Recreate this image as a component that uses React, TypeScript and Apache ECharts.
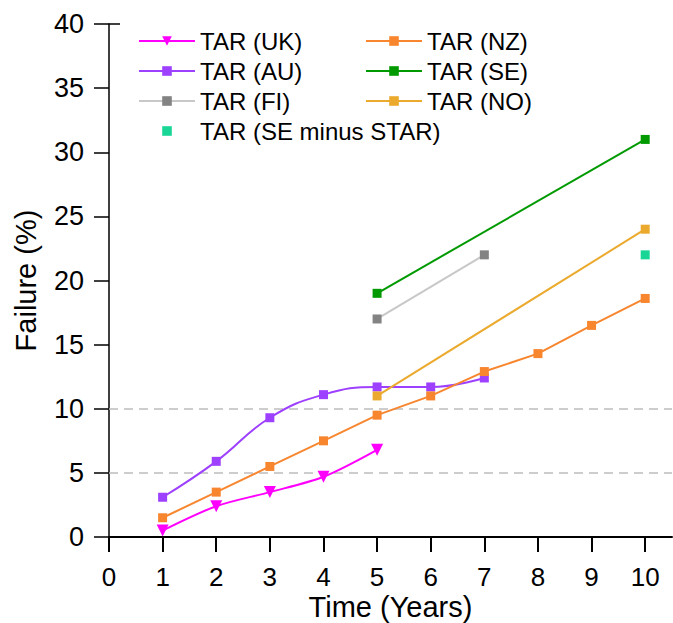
import React, { useEffect, useRef } from "react";
import * as echarts from "echarts";

const xTicks = [0, 1, 2, 3, 4, 5, 6, 7, 8, 9, 10];
const refLines = [5, 10];

const ukYears = [1, 2, 3, 4, 5];
const ukValues = [0.5, 2.4, 3.5, 4.7, 6.8];

const auYears = [1, 2, 3, 4, 5, 6, 7];
const auValues = [3.1, 5.9, 9.3, 11.1, 11.7, 11.7, 12.4];

const nzYears = [1, 2, 3, 4, 5, 6, 7, 8, 9, 10];
const nzValues = [1.5, 3.5, 5.5, 7.5, 9.5, 11.0, 12.9, 14.3, 16.5, 18.6];

const seYears = [5, 10];
const seValues = [19, 31];

const fiYears = [5, 7];
const fiValues = [17, 22];

const noYears = [5, 10];
const noValues = [11, 24];

const seMinusStarYears = [10];
const seMinusStarValues = [22];

const FONT = "'Liberation Sans', Arial, sans-serif";

const pairs = (xs: number[], ys: number[]) => xs.map((x, i) => [x, ys[i]]);

export default function App() {
  const ref = useRef<HTMLDivElement>(null);

  useEffect(() => {
    if (!ref.current) return;
    const chart = echarts.init(ref.current, undefined, { renderer: "svg" });

    const lineSeries = (
      name: string,
      xs: number[],
      ys: number[],
      lineColor: string,
      markerColor: string,
      extra: any = {}
    ) => ({
      name,
      type: "line",
      data: pairs(xs, ys),
      symbol: "rect",
      symbolSize: 9,
      lineStyle: { color: lineColor, width: 2 },
      itemStyle: { color: markerColor },
      z: 3,
      ...extra,
    });

    const legendText = { fontSize: 24, color: "#000", fontFamily: FONT };

    const option: any = {
      animation: false,
      backgroundColor: "#ffffff",
      textStyle: { fontFamily: FONT },
      grid: {
        left: 109,
        right: 1,
        top: 24,
        bottom: 86,
        containLabel: false,
        outerBoundsMode: "none",
      },
      xAxis: {
        type: "value",
        min: 0,
        max: 10.5,
        interval: 1,
        name: "Time (Years)",
        nameLocation: "middle",
        nameGap: 55,
        nameMoveOverlap: false,
        nameTextStyle: { fontSize: 29, color: "#000", fontFamily: FONT, lineHeight: 29 },
        axisLine: { show: true, onZero: false, lineStyle: { color: "#000", width: 2 } },
        axisTick: {
          show: true,
          inside: false,
          length: 15,
          customValues: xTicks,
          lineStyle: { color: "#000", width: 2 },
        },
        axisLabel: {
          show: true,
          customValues: xTicks,
          margin: 27,
          fontSize: 26,
          lineHeight: 26,
          color: "#000",
          fontFamily: FONT,
        },
        splitLine: { show: false },
      },
      yAxis: {
        type: "value",
        min: 0,
        max: 40,
        interval: 5,
        name: "Failure (%)",
        nameLocation: "middle",
        nameGap: 69,
        nameMoveOverlap: false,
        nameTextStyle: { fontSize: 29, color: "#000", fontFamily: FONT },
        axisLine: { show: true, onZero: false, lineStyle: { color: "#000", width: 1.5 } },
        axisTick: { show: true, inside: false, length: 15, lineStyle: { color: "#000", width: 1.5 } },
        axisLabel: { margin: 25, fontSize: 27, color: "#000", fontFamily: FONT },
        splitLine: { show: false },
      },
      legend: [
        {
          data: ["TAR (UK)", "TAR (AU)", "TAR (FI)", "TAR (SE minus STAR)"],
          orient: "vertical",
          left: 138,
          top: 29,
          padding: 0,
          itemWidth: 56,
          itemHeight: 12,
          itemGap: 6,
          textStyle: legendText,
        },
        {
          data: ["TAR (NZ)", "TAR (SE)", "TAR (NO)"],
          orient: "vertical",
          left: 365,
          top: 29,
          padding: 0,
          itemWidth: 56,
          itemHeight: 12,
          itemGap: 6,
          textStyle: legendText,
        },
      ],
      graphic: [
        {
          type: "line",
          shape: { x1: 109, y1: 24, x2: 120, y2: 24 },
          style: { stroke: "#000", lineWidth: 1.5 },
          z: 10,
        },
      ],
      series: [
        lineSeries("TAR (UK)", ukYears, ukValues, "#FF00FF", "#FF00FF", {
          symbol: "triangle",
          symbolRotate: 180,
          symbolSize: 12,
          smooth: 0.3,
          z: 5,
          markLine: {
            silent: true,
            symbol: "none",
            label: { show: false },
            lineStyle: { color: "#BDBDBD", width: 1.5, type: [9, 6] },
            data: refLines.map((v) => ({ yAxis: v })),
            z: 1,
          },
        }),
        lineSeries("TAR (AU)", auYears, auValues, "#9E40FF", "#9E40FF", { smooth: 0.45 }),
        lineSeries("TAR (FI)", fiYears, fiValues, "#C8C8C8", "#838383"),
        lineSeries("TAR (SE minus STAR)", seMinusStarYears, seMinusStarValues, "rgba(0,0,0,0)", "#19D697", {
          lineStyle: { color: "rgba(0,0,0,0)", width: 0 },
        }),
        lineSeries("TAR (NZ)", nzYears, nzValues, "#F7862F", "#F7862F", { z: 4 }),
        lineSeries("TAR (SE)", seYears, seValues, "#009A00", "#009A00"),
        lineSeries("TAR (NO)", noYears, noValues, "#EBAA2E", "#EBAA2E"),
      ],
    };

    chart.setOption(option);
    return () => chart.dispose();
  }, []);

  return (
    <div
      ref={ref}
      style={{ position: "absolute", left: 0, top: 0, width: 673, height: 623 }}
    />
  );
}
